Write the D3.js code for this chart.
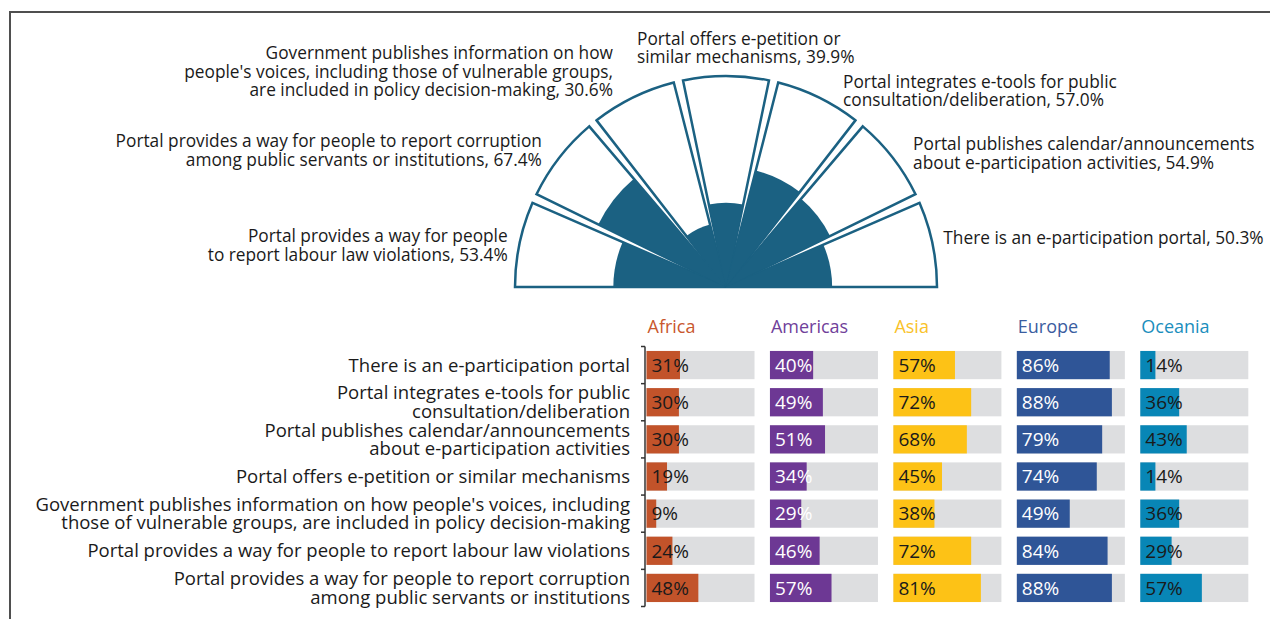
<!DOCTYPE html>
<html>
<head>
<meta charset="utf-8">
<script src="https://cdn.jsdelivr.net/npm/d3@7"></script>
<style>
  body { margin: 0; background: #fff; }
  svg text { font-family: "Open Sans", sans-serif; fill: #1a1a1a; }
  .toplabel { font-size: 17.3px; }
  .catlabel { font-size: 18.5px; }
  .header { font-size: 18px; }
  .value { font-size: 19px; }
</style>
</head>
<body>
<svg id="chart" width="1270" height="619"></svg>
<script>
// overall semicircle, left to right
const topIndicators = [
  ["Portal provides a way for people", "to report labour law violations"],
  ["Portal provides a way for people to report corruption", "among public servants or institutions"],
  ["Government publishes information on how", "people's voices, including those of vulnerable groups,", "are included in policy decision-making"],
  ["Portal offers e-petition or", "similar mechanisms"],
  ["Portal integrates e-tools for public", "consultation/deliberation"],
  ["Portal publishes calendar/announcements", "about e-participation activities"],
  ["There is an e-participation portal"]
];
const topValues = [53.4, 67.4, 30.6, 39.9, 57.0, 54.9, 50.3];

// regional bars, top to bottom
const indicators = [
  ["There is an e-participation portal"],
  ["Portal integrates e-tools for public", "consultation/deliberation"],
  ["Portal publishes calendar/announcements", "about e-participation activities"],
  ["Portal offers e-petition or similar mechanisms"],
  ["Government publishes information on how people's voices, including", "those of vulnerable groups, are included in policy decision-making"],
  ["Portal provides a way for people to report labour law violations"],
  ["Portal provides a way for people to report corruption", "among public servants or institutions"]
];
const regions = ["Africa", "Americas", "Asia", "Europe", "Oceania"];
const africa = [31, 30, 30, 19, 9, 24, 48];
const americas = [40, 49, 51, 34, 29, 46, 57];
const asia = [57, 72, 68, 45, 38, 72, 81];
const europe = [86, 88, 79, 74, 49, 84, 88];
const oceania = [14, 36, 43, 14, 36, 29, 57];
const regionValues = [africa, americas, asia, europe, oceania];

const regionColors = ["#c2532a", "#6d3894", "#fdc216", "#2f5597", "#0886b6"];
const headerColors = ["#c9582e", "#70409a", "#f9c22a", "#3a5da0", "#1a8ebd"];
const valueColors = ["#1a1a1a", "#ffffff", "#1a1a1a", "#ffffff", "#1a1a1a"];
const teal = "#1b6182";

const svg = d3.select("#chart");

// frame
svg.append("path")
  .attr("d", "M10,619V12H1270")
  .attr("fill", "none")
  .attr("stroke", "#4f4f4f")
  .attr("stroke-width", 2);

// ---- semicircle ----
const cx = 726, cy = 287, R = 211;
const pad = 0.045;
const rScale = d3.scaleLinear().domain([0, 100]).range([0, R]);

const pie = d3.pie()
  .sort(null)
  .value(() => 1)
  .startAngle(-Math.PI / 2 - pad / 2)
  .endAngle(Math.PI / 2 + pad / 2)
  .padAngle(pad);

const slices = pie(topValues);
const half = svg.append("g").attr("transform", `translate(${cx},${cy})`);

half.selectAll(".shell")
  .data(slices)
  .join("path")
  .attr("class", "shell")
  .attr("d", d3.arc().innerRadius(0).outerRadius(R))
  .attr("fill", "#fff")
  .attr("stroke", teal)
  .attr("stroke-width", 2.5);

half.selectAll(".fill")
  .data(slices)
  .join("path")
  .attr("class", "fill")
  .attr("d", d => d3.arc().innerRadius(0).outerRadius(rScale(d.data))(d))
  .attr("fill", teal);

// label placement around the rim: anchor, dx, dy (block centre)
const labelLayout = [
  { anchor: "end", dx: 0, dy: 4 },
  { anchor: "end", dx: -8, dy: 0 },
  { anchor: "end", dx: -15, dy: -15 },
  { anchor: "start", dx: -89, dy: -16 },
  { anchor: "start", dx: 19, dy: 4 },
  { anchor: "start", dx: 11, dy: 3 },
  { anchor: "start", dx: -1, dy: -4 }
];
const lineH = 18.5;

slices.forEach((d, i) => {
  const a = (d.startAngle + d.endAngle) / 2;
  const lx = Math.sin(a) * (R + 12) + labelLayout[i].dx;
  const ly = -Math.cos(a) * (R + 12) + labelLayout[i].dy;
  const lines = topIndicators[i].slice();
  lines[lines.length - 1] += `, ${topValues[i].toFixed(1)}%`;
  const t = half.append("text")
    .attr("class", "toplabel")
    .attr("text-anchor", labelLayout[i].anchor)
    .attr("x", lx)
    .attr("y", ly - (lines.length - 1) * lineH / 2);
  lines.forEach((l, j) => {
    t.append("tspan")
      .attr("x", lx)
      .attr("dy", j === 0 ? "0.35em" : lineH)
      .text(l);
  });
});

// ---- regional bars ----
const x0 = d3.scaleBand()
  .domain(regions)
  .range([646.5, 1248.3])
  .paddingInner(0.125);

const xv = d3.scaleLinear().domain([0, 100]).range([0, x0.bandwidth()]);

const y = d3.scaleBand()
  .domain(d3.range(indicators.length))
  .range([346.5, 606.5])
  .paddingInner(0.24)
  .paddingOuter(0.12);

// headers
svg.selectAll(".header")
  .data(regions)
  .join("text")
  .attr("class", "header")
  .attr("x", d => x0(d) + 1)
  .attr("y", 333)
  .style("fill", (d, i) => headerColors[i])
  .text(d => d);

// category axis
const axisX = 645;
svg.append("line")
  .attr("x1", axisX).attr("x2", axisX)
  .attr("y1", y.range()[0]).attr("y2", y.range()[1])
  .attr("stroke", "#333").attr("stroke-width", 1.5);

const tickYs = d3.range(indicators.length).map(i => y(i) - y.step() * y.paddingInner() / 2);
tickYs[0] = y.range()[0];
tickYs.push(y.range()[1]);
svg.selectAll(".tick")
  .data(tickYs)
  .join("line")
  .attr("class", "tick")
  .attr("x1", axisX - 4).attr("x2", axisX)
  .attr("y1", d => d).attr("y2", d => d)
  .attr("stroke", "#333").attr("stroke-width", 1.5);

const catH = 18.5;
indicators.forEach((lines, i) => {
  const cyRow = y(i) + y.bandwidth() / 2;
  const t = svg.append("text")
    .attr("class", "catlabel")
    .attr("text-anchor", "end")
    .attr("x", 630)
    .attr("y", cyRow - (lines.length - 1) * catH / 2);
  lines.forEach((l, j) => {
    t.append("tspan")
      .attr("x", 630)
      .attr("dy", j === 0 ? "0.35em" : catH)
      .text(l);
  });
});

regions.forEach((r, k) => {
  const g = svg.append("g").attr("transform", `translate(${x0(r)},0)`);
  const vals = regionValues[k];

  g.selectAll(".bg")
    .data(vals)
    .join("rect")
    .attr("class", "bg")
    .attr("x", 0)
    .attr("y", (d, i) => y(i))
    .attr("width", x0.bandwidth())
    .attr("height", y.bandwidth())
    .attr("fill", "#dddee0");

  g.selectAll(".bar")
    .data(vals)
    .join("rect")
    .attr("class", "bar")
    .attr("x", 0)
    .attr("y", (d, i) => y(i))
    .attr("width", d => xv(d))
    .attr("height", y.bandwidth())
    .attr("fill", regionColors[k]);

  g.selectAll(".value")
    .data(vals)
    .join("text")
    .attr("class", "value")
    .attr("x", 5)
    .attr("y", (d, i) => y(i) + y.bandwidth() / 2)
    .attr("dy", "0.36em")
    .style("fill", valueColors[k])
    .text(d => `${d}%`);
});
</script>
</body>
</html>
